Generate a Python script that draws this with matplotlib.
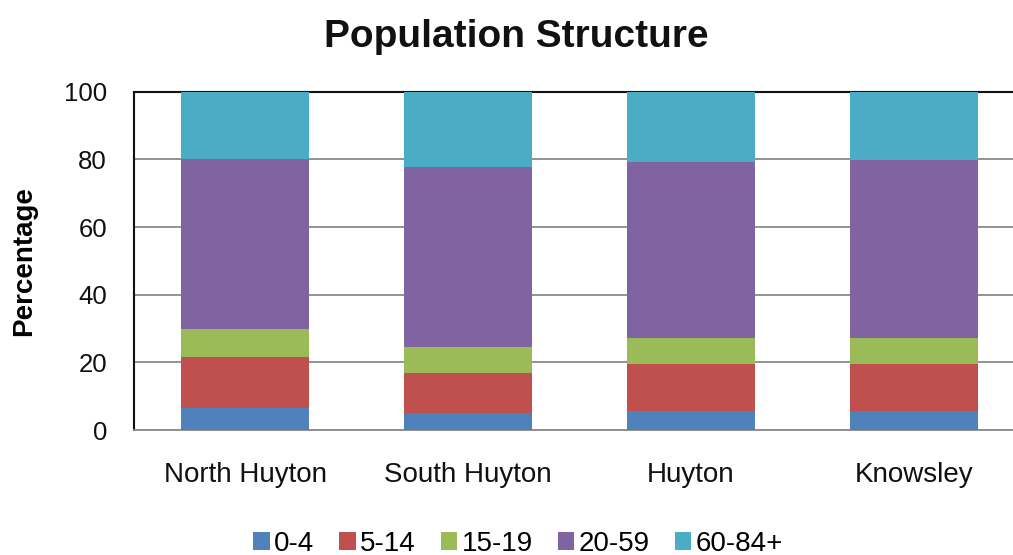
import matplotlib
matplotlib.use("Agg")
import matplotlib.pyplot as plt
import numpy as np

plt.rcParams['font.family'] = ['Liberation Sans', 'DejaVu Sans']

areas = ["North Huyton", "South Huyton", "Huyton", "Knowsley"]
age_groups = ["0-4", "5-14", "15-19", "20-59", "60-84+"]
age_0_4 = [6.4, 4.9, 5.6, 5.7]
age_5_14 = [15.3, 11.85, 13.8, 13.9]
age_15_19 = [8.05, 7.65, 7.9, 7.7]
age_20_59 = [50.45, 53.2, 51.9, 52.6]
age_60_plus = [19.8, 22.4, 20.8, 20.1]
colors = ["#4F81BD", "#C0504D", "#9BBB59", "#8064A2", "#4BACC6"]

series = [age_0_4, age_5_14, age_15_19, age_20_59, age_60_plus]

W, H = 1013, 555
fig = plt.figure(figsize=(W / 100, H / 100), dpi=100)
ax = fig.add_axes([133.5 / W, 1 - 430 / H, 892 / W, (430 - 91.7) / H])

x = np.arange(len(areas))
bottom = np.zeros(len(areas))
for vals, lab, col in zip(series, age_groups, colors):
    ax.bar(x, vals, width=0.57, bottom=bottom, color=col, label=lab, zorder=3)
    bottom += np.array(vals)

ax.set_xlim(-0.5, len(areas) - 0.5)
ax.set_ylim(0, 100)
ax.set_yticks([0, 20, 40, 60, 80, 100])
ax.yaxis.grid(True, color="#8a8a8a", linewidth=1.3, zorder=0)
ax.set_axisbelow(True)
ax.set_xticks(x)
ax.set_xticklabels(areas)
ax.tick_params(axis='y', length=0, pad=19, labelsize=18.5, colors="#111111")
ax.tick_params(axis='x', length=0, pad=23, labelsize=20, colors="#111111")

ax.spines['left'].set_color("#111111")
ax.spines['left'].set_linewidth(1.5)
ax.spines['top'].set_color("#111111")
ax.spines['top'].set_linewidth(1.5)
ax.spines['bottom'].set_color("#8a8a8a")
ax.spines['bottom'].set_linewidth(1.3)
ax.spines['right'].set_visible(False)

ax.set_ylabel("Percentage", fontsize=20, fontweight='bold', labelpad=19)

fig.text(516 / W, 1 - 37 / H, "Population Structure", ha='center', va='center',
         fontsize=28, fontweight='bold', color="#111111")

fig.legend(loc='center', bbox_to_anchor=(518 / W, 1 - 544 / H), ncol=5,
           fontsize=20, frameon=False, handlelength=0.6, handleheight=0.6,
           handletextpad=0.15, columnspacing=0.9, borderpad=0, borderaxespad=0)

fig.savefig("out.png", dpi=100)
